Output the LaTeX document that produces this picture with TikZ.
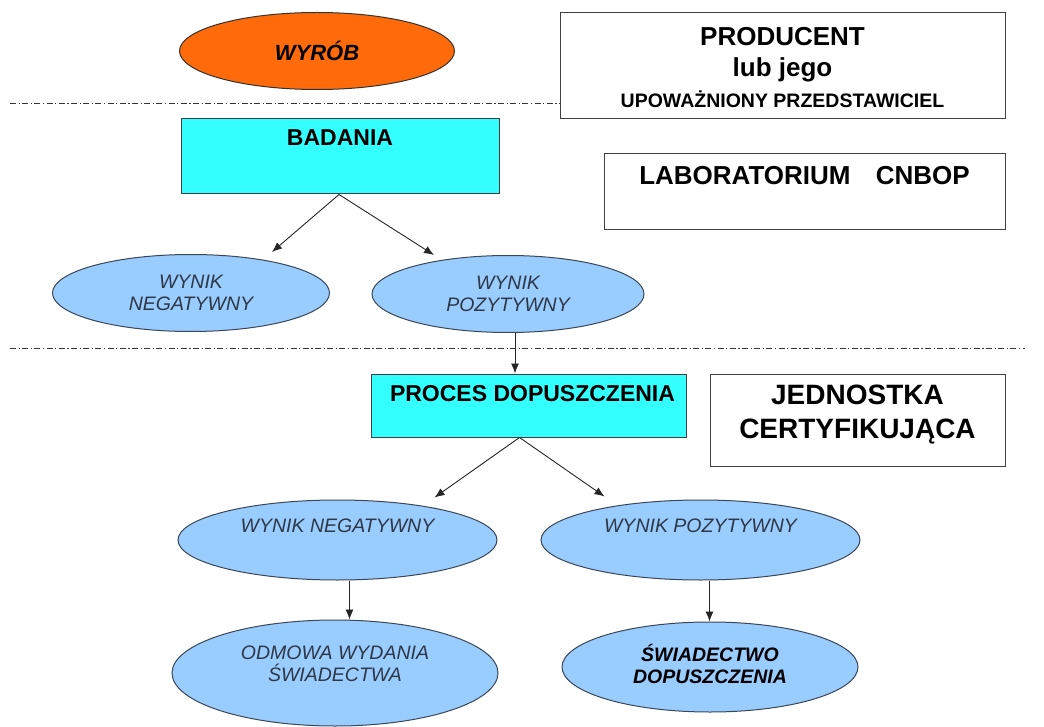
\documentclass[tikz,border=0pt]{standalone}
\usepackage{fontspec}
\setmainfont{Liberation Sans}
\usetikzlibrary{shapes.geometric,arrows.meta,positioning}

\definecolor{wyrobOrange}{HTML}{FF6A0A}
\definecolor{badCyan}{HTML}{33FFFF}
\definecolor{wynikBlue}{HTML}{99CCFF}
\definecolor{wynikLine}{HTML}{3B4656}
\definecolor{wynikText}{HTML}{2E3746}

\begin{document}
\begin{tikzpicture}[
    x=1pt, y=-1pt,
    frame/.style={draw=black!75, fill=white, rectangle, inner sep=0pt, line width=1pt},
    cyanbox/.style={draw=black!75, fill=badCyan, rectangle, inner sep=0pt, line width=1pt},
    oval/.style={draw=wynikLine, fill=wynikBlue, ellipse, inner sep=0pt, line width=1pt},
    wynik/.style={font=\fontsize{19.5}{22.5}\selectfont\itshape, text=wynikText, align=center, inner sep=0pt},
    head/.style={font=\fontsize{23}{27}\selectfont\bfseries, inner sep=0pt, align=center},
    arr/.style={-{Latex[length=10pt,width=8pt]}, line width=0.9pt, draw=black!85},
    sep/.style={draw=black!80, line width=0.9pt, dash pattern=on 6pt off 2.5pt on 1.2pt off 2.5pt}
]

\useasboundingbox (0,0) rectangle (1044,727);

% dash-dot separators
\draw[sep] (10,103) -- (560,103);
\draw[sep] (10,348) -- (1025,348);

% top row
\node[oval, fill=wyrobOrange, draw=black!80, minimum width=275pt, minimum height=77pt,
      font=\fontsize{22}{26}\selectfont\bfseries\itshape, text=black] (wyrob) at (317,51) {WYRÓB};

\node[frame, minimum width=445pt, minimum height=106pt] (producent) at (782.5,65.5) {};
\node[head, font=\fontsize{26}{31}\selectfont\bfseries, below=15pt of producent.north] (producent_txt)
    {PRODUCENT\\lub jego\\{\fontsize{19.5}{31}\selectfont UPOWAŻNIONY PRZEDSTAWICIEL}};

% badania
\node[cyanbox, minimum width=318pt, minimum height=75pt] (badania) at (340,156.5) {};
\node[head, below=11pt of badania.north] (badania_txt) {BADANIA};

\node[frame, minimum width=401pt, minimum height=76pt] (lab) at (804.5,192) {};
\node[head, font=\fontsize{26}{30}\selectfont\bfseries, below=13pt of lab.north] (lab_txt)
    {LABORATORIUM\hspace{18pt} CNBOP};

\node[oval, wynik, minimum width=277pt, minimum height=77pt, fill=wynikBlue, draw=wynikLine] (neg1) at (191,293) {WYNIK\\NEGATYWNY};
\node[oval, wynik, minimum width=272pt, minimum height=77pt, fill=wynikBlue, draw=wynikLine] (pos1) at (508,294) {WYNIK\\POZYTYWNY};

\draw[arr] ([xshift=-1pt]badania.south) -- ([xshift=81pt,yshift=2pt]neg1.north);
\draw[arr] ([xshift=-1pt]badania.south) -- ([xshift=-74pt,yshift=0pt]pos1.north);

% proces dopuszczenia
\node[cyanbox, minimum width=315pt, minimum height=63pt] (proces) at (528.5,405.5) {};
\node[head, below=12pt of proces.north, xshift=4pt] (proces_txt) {PROCES DOPUSZCZENIA};

\node[frame, minimum width=295pt, minimum height=92pt] (jednostka) at (857.5,420) {};
\node[head, font=\fontsize{28}{34}\selectfont\bfseries] (jednostka_txt) at ([yshift=5pt]jednostka.center)
    {JEDNOSTKA\\CERTYFIKUJĄCA};

\draw[arr] ([xshift=7pt]pos1.south) -- ([xshift=7pt]pos1.south |- proces.north);

\node[oval, minimum width=319pt, minimum height=80pt] (neg2) at (337.5,540) {};
\node[wynik] (neg2_txt) at ([yshift=14pt]neg2.center) {WYNIK NEGATYWNY};
\node[oval, minimum width=319pt, minimum height=80pt] (pos2) at (700.5,540) {};
\node[wynik] (pos2_txt) at ([yshift=14pt]pos2.center) {WYNIK POZYTYWNY};

\draw[arr] ([xshift=-9pt]proces.south) -- ([xshift=97pt,yshift=2pt]neg2.north);
\draw[arr] ([xshift=-9pt]proces.south) -- ([xshift=-96pt,yshift=3pt]pos2.north);

% results
\node[oval, minimum width=326pt, minimum height=106pt] (odmowa) at (335,673) {};
\node[wynik] (odmowa_txt) at ([yshift=9pt]odmowa.center) {ODMOWA WYDANIA\\ŚWIADECTWA};
\node[oval, minimum width=296pt, minimum height=90pt] (swiadectwo) at (710,667) {};
\node[wynik, font=\fontsize{19.5}{22.5}\selectfont\bfseries\itshape, text=black] (swiadectwo_txt)
    at ([yshift=3pt]swiadectwo.center) {ŚWIADECTWO\\DOPUSZCZENIA};

\draw[arr] ([xshift=12pt]neg2.south) -- ([xshift=12pt]neg2.south |- odmowa.north);
\draw[arr] ([xshift=9pt]pos2.south) -- ([xshift=9pt]pos2.south |- swiadectwo.north);

\end{tikzpicture}
\end{document}
